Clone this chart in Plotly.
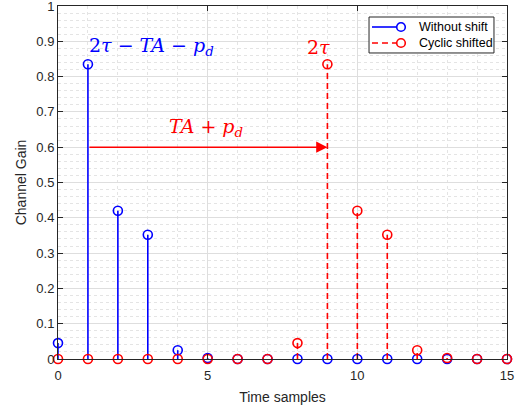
import plotly.graph_objects as go

# ---- data ----
samples = list(range(16))
without_shift = [0.045, 0.835, 0.42, 0.352, 0.025, 0.003, 0, 0, 0, 0, 0, 0, 0, 0, 0, 0]
cyclic_shifted = [0, 0, 0, 0, 0, 0, 0, 0, 0.045, 0.835, 0.42, 0.352, 0.025, 0.003, 0, 0]
series_names = ["Without shift", "Cyclic shifted"]
x_ticks = [0, 5, 10, 15]
y_ticks = [0, 0.1, 0.2, 0.3, 0.4, 0.5, 0.6, 0.7, 0.8, 0.9, 1]
arrow_start, arrow_end, arrow_level = 1, 9, 0.6

BLUE = "#0000ff"
RED = "#ff0000"
AX = "#262626"
FONT = "Liberation Sans, Arial, sans-serif"
SERIF = "DejaVu Serif, Liberation Serif, serif"

fig = go.Figure()


def stems(xs, ys):
    sx, sy = [], []
    for xv, yv in zip(xs, ys):
        sx += [xv, xv, None]
        sy += [0, yv, None]
    return sx, sy


styles = [(without_shift, BLUE, "solid"), (cyclic_shifted, RED, "6px,4px")]
for (vals, color, dash), name in zip(styles, series_names):
    sx, sy = stems(samples, vals)
    fig.add_trace(go.Scatter(x=sx, y=sy, mode="lines", name=name,
                             line=dict(color=color, width=1.6, dash=dash),
                             showlegend=False, hoverinfo="skip", cliponaxis=False))
    fig.add_trace(go.Scatter(x=samples, y=vals, mode="markers", name=name,
                             marker=dict(symbol="circle-open", size=9, color=color,
                                         line=dict(width=1.6, color=color)),
                             showlegend=False, cliponaxis=False))

# arrow
fig.add_annotation(x=arrow_end, y=arrow_level, ax=arrow_start, ay=arrow_level,
                   xref="x", yref="y", axref="x", ayref="y", text="",
                   showarrow=True, arrowhead=2, arrowsize=1.4, arrowwidth=1.6,
                   arrowcolor=RED)

fig.add_annotation(x=0.97, y=0.885, xref="x", yref="y", xanchor="left", yanchor="middle",
                   text="2<i>τ</i> − <i>TA</i> − <i>p<sub>d</sub></i>", showarrow=False,
                   font=dict(family=SERIF, size=19, color=BLUE))
fig.add_annotation(x=8.69, y=0.885, xref="x", yref="y", xanchor="center", yanchor="middle",
                   text="2<i>τ</i>", showarrow=False,
                   font=dict(family=SERIF, size=19, color=RED))
fig.add_annotation(x=4.96, y=0.655, xref="x", yref="y", xanchor="center", yanchor="middle",
                   text="<i>TA</i> + <i>p<sub>d</sub></i>", showarrow=False,
                   font=dict(family=SERIF, size=19, color=RED))

# ---- legend (MATLAB style, compact) ----
leg_x0, leg_x1, leg_y0, leg_y1 = 0.6927, 0.9710, 0.8669, 0.9688
fig.add_shape(type="rect", xref="paper", yref="paper", x0=leg_x0, x1=leg_x1,
              y0=leg_y0, y1=leg_y1, line=dict(color=AX, width=1), fillcolor="white",
              layer="above")
row_y = [0.9405, 0.8952]
line_x0, mark_x, text_x = 0.6993, 0.7639, 0.7996
for (vals, color, dash), name, ry in zip(styles, series_names, row_y):
    fig.add_shape(type="line", xref="paper", yref="paper", x0=line_x0, x1=mark_x,
                  y0=ry, y1=ry, line=dict(color=color, width=1.6, dash=dash), layer="above")
    fig.add_shape(type="circle", xref="paper", yref="paper", xsizemode="pixel",
                  ysizemode="pixel", xanchor=mark_x, yanchor=ry, x0=-4.3, x1=4.3,
                  y0=-4.3, y1=4.3, line=dict(color=color, width=1.6), fillcolor="white",
                  layer="above")
    fig.add_annotation(x=text_x, y=ry, xref="paper", yref="paper", xanchor="left",
                       yanchor="middle", text=name, showarrow=False,
                       font=dict(family=FONT, size=12.5, color="black"))

axis_common = dict(showline=True, linecolor=AX, linewidth=1, mirror="ticks",
                   ticks="inside", ticklen=5, tickcolor=AX, zeroline=False,
                   showgrid=True, gridcolor="#dedede", gridwidth=1,
                   ticklabeloverflow="allow", automargin=False,
                   tickfont=dict(family=FONT, size=13, color=AX))

fig.update_xaxes(range=[0, 15], tickvals=x_ticks, ticklabelstandoff=4,
                 title=dict(text="Time samples", font=dict(family=FONT, size=14, color=AX), standoff=10),
                 minor=dict(dtick=1, showgrid=True, gridcolor="#e4e4e4", griddash="dot", ticks=""),
                 **axis_common)
fig.update_yaxes(range=[0, 1], tickvals=y_ticks,
                 title=dict(text="Channel Gain", font=dict(family=FONT, size=14, color=AX), standoff=6),
                 minor=dict(dtick=0.02, showgrid=True, gridcolor="#e4e4e4", griddash="dot", ticks=""),
                 **axis_common)

fig.update_layout(
    width=521, height=409,
    margin=dict(l=58, r=14, t=6, b=50),
    paper_bgcolor="white", plot_bgcolor="white",
    font=dict(family=FONT, color=AX),
    showlegend=False,
)

fig.write_html("out.html")
